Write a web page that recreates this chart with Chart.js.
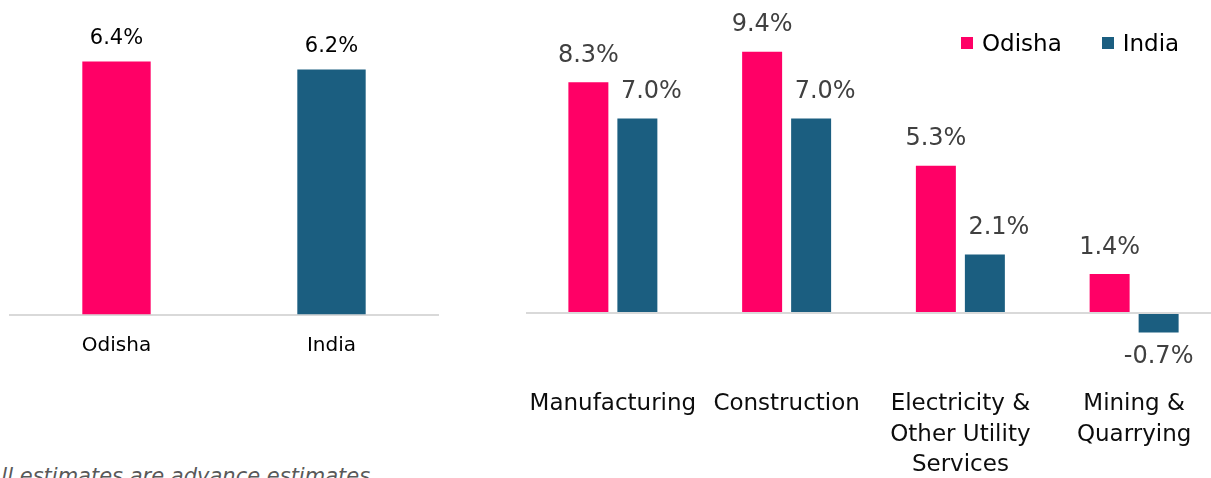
<!DOCTYPE html>
<html>
<head>
<meta charset="utf-8">
<script src="https://cdn.jsdelivr.net/npm/chart.js@4.4.1/dist/chart.umd.min.js"></script>
<style>
    html, body { margin: 0; padding: 0; background: #fff; overflow: hidden; }
    body { width: 1211px; height: 478px; position: relative; font-family: 'DejaVu Sans', sans-serif; }
    #leftBox { position: absolute; left: 0; top: 0; width: 460px; height: 380px; }
    #rightBox { position: absolute; left: 465.6px; top: 0; width: 785px; height: 540px; }
    #legend { position: absolute; left: 961px; top: 31px; display: flex; align-items: center; height: 24px; font-size: 23px; color: #000; }
    #legend .item { display: flex; align-items: center; margin-right: 40px; }
    #legend .swatch { width: 12px; height: 12px; margin-right: 9px; }
    #note { position: absolute; left: -13px; top: 466px; font-size: 21px; line-height: 21px; font-style: italic; color: #595959; white-space: nowrap; }
</style>
</head>
<body>
<div id="leftBox"><canvas id="overallChart"></canvas></div>
<div id="rightBox"><canvas id="sectorChart"></canvas></div>
<div id="legend"></div>
<div id="note">All estimates are advance estimates</div>
<script>
// overall growth
const regions = ['Odisha', 'India'];
const overallGrowth = [6.4, 6.2];

// sector growth
const sectors = [
    ['Manufacturing'],
    ['Construction'],
    ['Electricity &', 'Other Utility', 'Services'],
    ['Mining &', 'Quarrying']
];
const odishaGrowth = [8.3, 9.4, 5.3, 1.4];
const indiaGrowth = [7.0, 7.0, 2.1, -0.7];

const PINK = '#FF0066';
const BLUE = '#1B5E80';
const FONT = "'DejaVu Sans', sans-serif";

// draws "x.x%" above (or below) each bar
const valueLabels = {
    id: 'valueLabels',
    afterDatasetsDraw(chart) {
        const opts = chart.options.plugins.valueLabels || {};
        const ctx = chart.ctx;
        ctx.save();
        ctx.font = `${opts.size}px ${FONT}`;
        ctx.fillStyle = opts.color;
        ctx.textAlign = 'center';
        chart.data.datasets.forEach((ds, i) => {
            const meta = chart.getDatasetMeta(i);
            const dx = (opts.shiftX || [])[i] || 0;
            meta.data.forEach((bar, j) => {
                const v = ds.data[j];
                const txt = v.toFixed(1) + '%';
                if (v >= 0) {
                    ctx.textBaseline = 'alphabetic';
                    ctx.fillText(txt, bar.x + dx, bar.y - opts.gap);
                } else {
                    ctx.textBaseline = 'top';
                    ctx.fillText(txt, bar.x, bar.y + opts.gapBelow);
                }
            });
        });
        ctx.restore();
    }
};

function zeroLine(c) {
    return c.tick && c.tick.value === 0 ? '#D9D9D9' : 'rgba(0,0,0,0)';
}

new Chart(document.getElementById('overallChart'), {
    type: 'bar',
    data: {
        labels: regions,
        datasets: [{
            data: overallGrowth,
            backgroundColor: [PINK, BLUE],
            borderWidth: 0,
            categoryPercentage: 1,
            barPercentage: 0.318
        }]
    },
    options: {
        responsive: true,
        maintainAspectRatio: false,
        animation: false,
        layout: { padding: { left: 9, right: 21, top: 37.8, bottom: 4.3 } },
        plugins: {
            legend: { display: false },
            tooltip: { enabled: false },
            valueLabels: { size: 21, color: '#000', gap: 17.5, gapBelow: 12 }
        },
        scales: {
            x: {
                grid: { display: false, drawTicks: false },
                border: { display: false },
                ticks: { color: '#000', font: { family: FONT, size: 20, lineHeight: 1.2 }, padding: 18.2 }
            },
            y: {
                min: 0,
                max: 7,
                ticks: { display: false, stepSize: 1 },
                border: { display: false },
                grid: { drawTicks: false, color: zeroLine, lineWidth: 2 }
            }
        }
    },
    plugins: [valueLabels]
});

const sectorChart = new Chart(document.getElementById('sectorChart'), {
    type: 'bar',
    data: {
        labels: sectors,
        datasets: [
            {
                label: 'Odisha',
                data: odishaGrowth,
                backgroundColor: PINK,
                borderWidth: 0,
                categoryPercentage: 0.564,
                barPercentage: 0.816
            },
            {
                label: 'India',
                data: indiaGrowth,
                backgroundColor: BLUE,
                borderWidth: 0,
                categoryPercentage: 0.564,
                barPercentage: 0.816
            }
        ]
    },
    options: {
        responsive: true,
        maintainAspectRatio: false,
        animation: false,
        layout: { padding: { left: 60, right: 30, top: 35, bottom: 11.7 } },
        plugins: {
            legend: { display: false },
            tooltip: { enabled: false },
            valueLabels: { size: 24, color: '#404040', gap: 20.5, gapBelow: 12, shiftX: [0, 14] }
        },
        scales: {
            x: {
                grid: { display: false, drawTicks: false },
                border: { display: false },
                ticks: { color: '#0D0D0D', font: { family: FONT, size: 23, lineHeight: '30.5px' }, padding: 48, maxRotation: 0, autoSkip: false }
            },
            y: {
                min: -1,
                max: 10,
                ticks: { display: false, stepSize: 1 },
                border: { display: false },
                grid: { drawTicks: false, color: zeroLine, lineWidth: 2 }
            }
        }
    },
    plugins: [valueLabels]
});

// legend built from the sector datasets
const legendEl = document.getElementById('legend');
sectorChart.data.datasets.forEach(ds => {
    const item = document.createElement('div');
    item.className = 'item';
    const sw = document.createElement('span');
    sw.className = 'swatch';
    sw.style.background = ds.backgroundColor;
    const label = document.createElement('span');
    label.textContent = ds.label;
    item.appendChild(sw);
    item.appendChild(label);
    legendEl.appendChild(item);
});
</script>
</body>
</html>
